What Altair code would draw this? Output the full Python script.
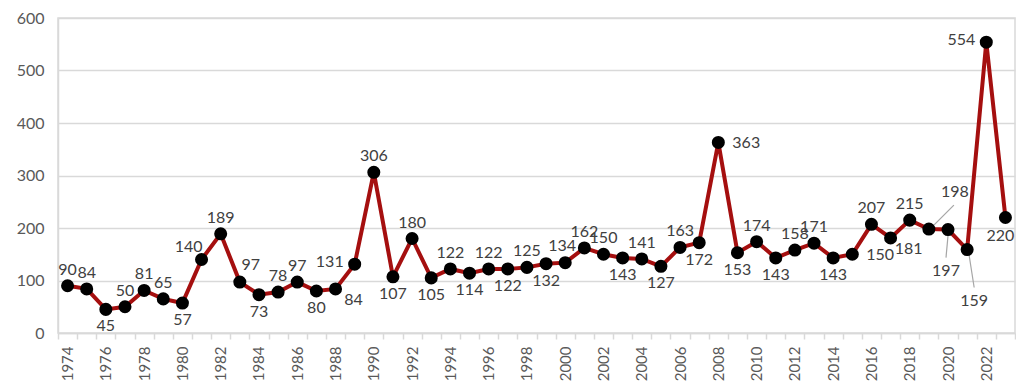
import altair as alt
import pandas as pd

years = list(range(1974, 2024))
values = [90, 84, 45, 50, 81, 65, 57, 140, 189, 97,
          73, 78, 97, 80, 84, 131, 306, 107, 180, 105,
          122, 114, 122, 122, 125, 132, 134, 162, 150, 143,
          141, 127, 163, 172, 363, 153, 174, 143, 158, 171,
          143, 150, 207, 181, 215, 198, 197, 159, 554, 220]
# label placement code per point
label_pos = ["a", "a", "b", "a", "a", "a", "b", "al", "a", "ar",
             "b", "a", "a", "b", "br", "l", "a", "b", "a", "b",
             "a", "b", "a", "b", "a", "b", "al2", "a", "a", "b",
             "a", "b", "a", "b", "r", "b", "a", "b", "a", "a",
             "b", "r", "a", "br", "a", "c1", "c2", "c3", "l", "bl"]

df = pd.DataFrame({"year": years, "value": values, "pos": label_pos})

FONT = "Lato"
TXT = "#404040"
GRID = "#D9D9D9"

xenc = alt.X("year:O", bandPosition=0.5,
             scale=alt.Scale(type="band", paddingInner=0, paddingOuter=0),
             axis=alt.Axis(title=None, labelAngle=-90, tickBand="extent",
                           labelExpr="datum.value % 2 == 0 ? datum.label : ''",
                           labelFont=FONT, labelFontSize=15, labelColor="#595959",
                           domainColor=GRID, domainWidth=1.5, tickColor=GRID, tickWidth=1.5,
                           tickSize=6, labelPadding=7, labelAlign="right",
                           labelBaseline="middle", grid=False))
yenc = alt.Y("value:Q",
             scale=alt.Scale(domain=[0, 600], nice=False),
             axis=alt.Axis(title=None, values=[0, 100, 200, 300, 400, 500, 600],
                           labelFont=FONT, labelFontSize=16, labelColor="#595959",
                           ticks=False, domainColor=GRID, domainWidth=1.5,
                           gridColor=GRID, gridWidth=1.5, labelPadding=14))

base = alt.Chart(df)

line = base.mark_line(color="#A50F0F", strokeWidth=4).encode(x=xenc, y=yenc)
points = base.mark_circle(color="black", size=170, opacity=1).encode(x=xenc, y=yenc)

offsets = {
    "a": dict(dx=0, dy=-16, align="center"),
    "ar": dict(dx=11, dy=-17, align="center"),
    "b": dict(dx=0, dy=17, align="center"),
    "bl": dict(dx=-5, dy=18, align="center"),
    "al": dict(dx=-13, dy=-13, align="center"),
    "al2": dict(dx=-3, dy=-17, align="center"),
    "br": dict(dx=18, dy=11, align="center"),
    "l": dict(dx=-11, dy=-2, align="right"),
    "r": dict(dx=14, dy=1, align="left"),
    "c1": dict(dx=26, dy=-37, align="center"),
    "c2": dict(dx=-2, dy=41, align="center"),
    "c3": dict(dx=7, dy=51, align="center"),
}

layers = [line]

leaders = {
    "c1": dict(xOffset=5, yOffset=-4, x2Offset=25, y2Offset=-24),
    "c2": dict(xOffset=0, yOffset=6, x2Offset=-2, y2Offset=28),
    "c3": dict(xOffset=2, yOffset=6, x2Offset=7, y2Offset=38),
}
for code, o in leaders.items():
    layers.append(
        base.transform_filter(alt.datum.pos == code)
        .mark_rule(color="#A6A6A6", strokeWidth=1.2, **o)
        .encode(x=xenc, x2="year:O", y=yenc, y2="value:Q")
    )

layers.append(points)

for code, o in offsets.items():
    layers.append(
        base.transform_filter(alt.datum.pos == code)
        .mark_text(font=FONT, fontSize=16, color=TXT, baseline="middle", **o)
        .encode(x=xenc, y=yenc, text="value:Q")
    )

chart = alt.layer(*layers).properties(
    width=957, height=315,
    autosize=alt.AutoSizeParams(type="none"),
    padding={"left": 50, "top": 10, "right": 1, "bottom": 49},
).configure_view(stroke=GRID, strokeWidth=1.5)

chart.save("out.html", embed_options={"renderer": "svg", "actions": False})
